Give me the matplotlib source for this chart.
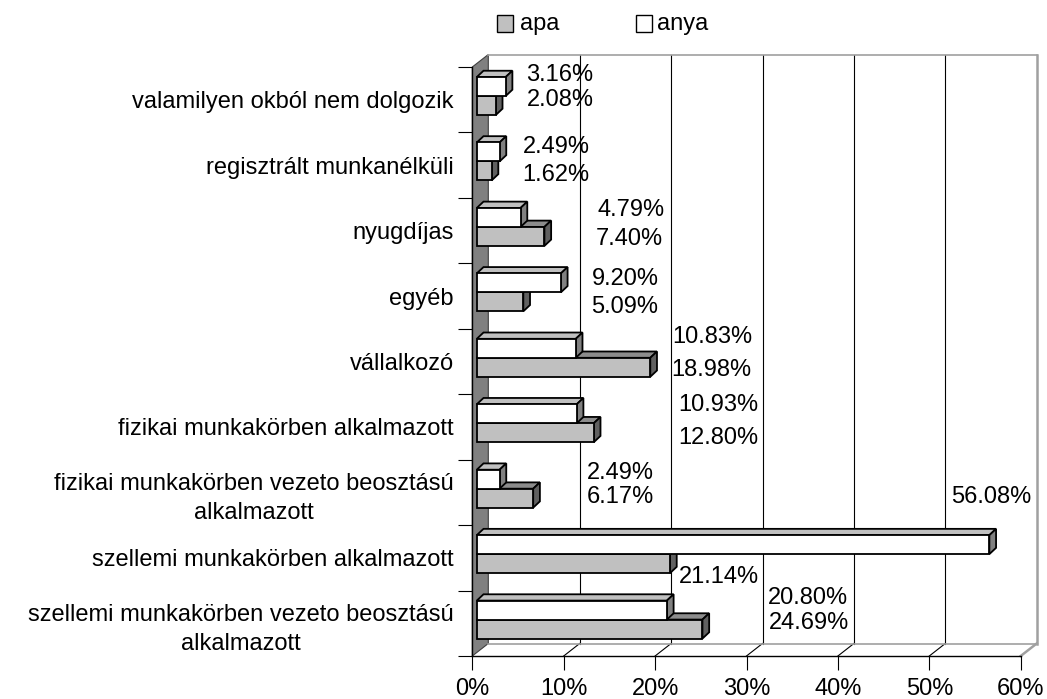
import matplotlib
matplotlib.use('Agg')
import matplotlib.pyplot as plt
from matplotlib.patches import Polygon, Rectangle
from matplotlib.lines import Line2D
from matplotlib.ticker import FixedLocator

plt.rcParams['font.family'] = ['Liberation Sans', 'DejaVu Sans']

# ---------------- data ----------------
categories = [
    "szellemi munkakörben vezeto beosztású\nalkalmazott",
    "szellemi munkakörben alkalmazott",
    "fizikai munkakörben vezeto beosztású\nalkalmazott",
    "fizikai munkakörben alkalmazott",
    "vállalkozó",
    "egyéb",
    "nyugdíjas",
    "regisztrált munkanélküli",
    "valamilyen okból nem dolgozik",
]
anya = [20.80, 56.08, 2.49, 10.93, 10.83, 9.20, 4.79, 2.49, 3.16]
apa = [24.69, 21.14, 6.17, 12.80, 18.98, 5.09, 7.40, 1.62, 2.08]
series_names = ["apa", "anya"]
x_ticks = [0, 10, 20, 30, 40, 50, 60]
x_tick_labels = [f"{t}%" for t in x_ticks]

# label layout (data coords, as placed in the original chart)
label_pos_anya = [(36.73, 0.386), (56.75, 1.930), (16.16, 2.296), (26.88, 3.335),
                  (26.23, 4.375), (16.71, 5.261), (17.36, 6.315), (9.16, 7.278), (9.60, 8.378)]
label_pos_apa = [(36.84, 0.004), (26.99, 0.707), (16.16, 1.930), (26.88, 2.831),
                 (26.12, 3.870), (16.71, 4.833), (17.14, 5.872), (9.16, 6.850), (9.60, 7.996)]

FS = 17

# ---------------- figure ----------------
W, H = 1047, 699
fig = plt.figure(figsize=(W / 100, H / 100), dpi=100)
fig.patch.set_facecolor('white')
ax = fig.add_axes([472.3 / W, (H - 656) / H, (1020.7 - 472.3) / W, (656 - 67) / H])
ax.set_xlim(0, 60)
ax.set_ylim(-0.5, 8.5)
ax.patch.set_visible(False)

p0 = ax.transData.transform((0, 0))
p1 = ax.transData.transform((1, 1))
ux, uy = p1[0] - p0[0], p1[1] - p0[1]


def off(px, py):
    return px / ux, py / uy


bdx, bdy = off(16, 12.5)      # back plane offset
fx, fy = off(4.5, 3.7)        # bar front offset
ddx, ddy = off(6.7, 6.3)      # bar depth
h = 0.29
ymin, ymax = -0.5, 8.5
xmax = 60

# back wall
ax.add_patch(Rectangle((bdx, ymin + bdy), xmax, ymax - ymin, facecolor='white',
                       edgecolor='none', zorder=0.2, clip_on=False))
# floor
ax.add_patch(Polygon([(0, ymin), (xmax, ymin), (xmax + bdx, ymin + bdy), (bdx, ymin + bdy)],
                     closed=True, facecolor='white', edgecolor='none', zorder=0.2, clip_on=False))
# left wall
ax.add_patch(Polygon([(0, ymin), (0, ymax), (bdx, ymax + bdy), (bdx, ymin + bdy)],
                     closed=True, facecolor='#808080', edgecolor='#404040', lw=0.8,
                     zorder=0.3, clip_on=False))
# gridlines on back wall and floor
for k in x_ticks[1:-1]:
    ax.add_line(Line2D([k + bdx, k + bdx], [ymin + bdy, ymax + bdy], color='black', lw=0.8,
                       zorder=0.4, clip_on=False))
    ax.add_line(Line2D([k, k + bdx], [ymin, ymin + bdy], color='black', lw=0.8,
                       zorder=0.4, clip_on=False))
grey_edge = '#a0a0a0'
ax.add_line(Line2D([bdx, xmax + bdx], [ymax + bdy, ymax + bdy], color=grey_edge, lw=1.2,
                   zorder=0.45, clip_on=False))
ax.add_line(Line2D([xmax + bdx, xmax + bdx], [ymin + bdy, ymax + bdy], color=grey_edge, lw=1.8,
                   zorder=0.45, clip_on=False))
ax.add_line(Line2D([bdx, xmax + bdx], [ymin + bdy, ymin + bdy], color=grey_edge, lw=1.2,
                   zorder=0.45, clip_on=False))
ax.add_line(Line2D([xmax, xmax + bdx], [ymin, ymin + bdy], color=grey_edge, lw=1.8,
                   zorder=0.45, clip_on=False))

# bars
pos = list(range(len(categories)))
grey_y = [p - h / 2 + fy for p in pos]
white_y = [p + h / 2 + fy for p in pos]
lw = 1.3


def faces(yc, vals, top_c, side_c, z):
    for y, v in zip(yc, vals):
        yb, yt = y - h / 2, y + h / 2
        x1 = fx + v
        ax.add_patch(Polygon([(fx, yt), (x1, yt), (x1 + ddx, yt + ddy), (fx + ddx, yt + ddy)],
                             closed=True, facecolor=top_c, edgecolor='black', lw=lw,
                             joinstyle='miter', zorder=z, clip_on=False))
        ax.add_patch(Polygon([(x1, yb), (x1, yt), (x1 + ddx, yt + ddy), (x1 + ddx, yb + ddy)],
                             closed=True, facecolor=side_c, edgecolor='black', lw=lw,
                             joinstyle='miter', zorder=z, clip_on=False))


faces(grey_y, apa, '#8c8c8c', '#606060', 3)
ax.barh(grey_y, apa, left=fx, height=h, color='#c0c0c0', edgecolor='black', lw=lw,
        zorder=3.1, clip_on=False)
faces(white_y, anya, '#c0c0c0', '#808080', 4)
ax.barh(white_y, anya, left=fx, height=h, color='white', edgecolor='black', lw=lw,
        zorder=4.1, clip_on=False)

# data labels
for v, (x, y) in zip(anya, label_pos_anya):
    ax.text(x, y, f"{v:.2f}%", ha='center', va='center', fontsize=FS, zorder=6, clip_on=False)
for v, (x, y) in zip(apa, label_pos_apa):
    ax.text(x, y, f"{v:.2f}%", ha='center', va='center', fontsize=FS, zorder=6, clip_on=False)

# axes
for s in ['top', 'right']:
    ax.spines[s].set_visible(False)
for s in ['left', 'bottom']:
    ax.spines[s].set_color('black')
    ax.spines[s].set_linewidth(1.0)
ax.set_xticks(x_ticks)
ax.set_xticklabels(x_tick_labels, fontsize=FS)
ax.tick_params(axis='x', length=10, width=0.8, direction='out', pad=5.5)
ax.set_yticks(pos)
ax.set_yticklabels(categories, fontsize=FS, multialignment='center', linespacing=1.43)
ax.tick_params(axis='y', which='major', length=0, pad=13.5)
ax.yaxis.set_minor_locator(FixedLocator([p - 0.5 for p in pos] + [pos[-1] + 0.5]))
ax.tick_params(axis='y', which='minor', length=10, width=0.8, direction='out')

# legend (manual, figure pixels)
def fpx(x, y):
    return x / W, 1 - y / H


lx, ly = fpx(497, 32)
fig.add_artist(Rectangle((lx, ly), 16 / W, 17 / H, transform=fig.transFigure,
                         facecolor='#c0c0c0', edgecolor='black', lw=1.0))
tx, ty = fpx(520, 24)
fig.text(tx, ty, series_names[0], fontsize=FS, va='center', ha='left')
lx, ly = fpx(636, 32)
fig.add_artist(Rectangle((lx, ly), 16 / W, 17 / H, transform=fig.transFigure,
                         facecolor='white', edgecolor='black', lw=1.0))
tx, ty = fpx(657, 24)
fig.text(tx, ty, series_names[1], fontsize=FS, va='center', ha='left')

fig.savefig('out.png', dpi=100)
